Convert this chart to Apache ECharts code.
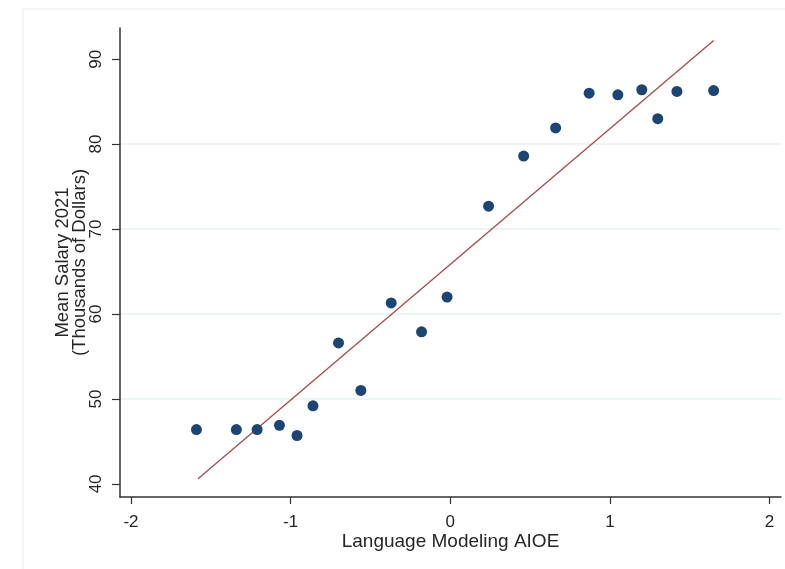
<!DOCTYPE html>
<html>
<head>
<meta charset="utf-8">
<script src="https://cdn.jsdelivr.net/npm/echarts@6/dist/echarts.min.js"></script>
<style>
html,body{margin:0;padding:0;background:#fff;}
#chart{width:785px;height:569px;}
</style>
</head>
<body>
<div id="chart"></div>
<script>
// ---- data ----
const aioe = [-1.59, -1.34, -1.21, -1.07, -0.96, -0.86, -0.70, -0.56, -0.37, -0.18, -0.02, 0.24, 0.46, 0.66, 0.87, 1.05, 1.20, 1.30, 1.42, 1.65];
const salary = [46.4, 46.4, 46.4, 46.9, 45.7, 49.2, 56.6, 51.0, 61.3, 57.9, 62.0, 72.7, 78.6, 81.9, 86.0, 85.8, 86.4, 83.0, 86.2, 86.3];
const fitX = [-1.58, 1.65];
const fitY = [40.6, 92.2];
const xTicks = [-2, -1, 0, 1, 2];
const yTicks = [40, 50, 60, 70, 80, 90];
const xTitle = 'Language Modeling AIOE';
const yTitle = 'Mean Salary 2021\n(Thousands of Dollars)';

const FONT = '"Liberation Sans", Arial, sans-serif';
const TXT = '#262626';
const AX = '#333';

const chart = echarts.init(document.getElementById('chart'), null, {renderer: 'canvas'});
chart.setOption({
  animation: false,
  backgroundColor: '#fff',
  textStyle: {fontFamily: FONT},
  grid: [
    {left: 120, top: 28, width: 661, height: 469, containLabel: false, outerBoundsMode: 'none'},
    {left: 23, top: 9, width: 1200, height: 1200, show: true, borderColor: '#e9eef0', borderWidth: 1,
     backgroundColor: 'transparent', containLabel: false, outerBoundsMode: 'none'}
  ],
  xAxis: [
    {
      gridIndex: 0, type: 'value', min: -2.069, max: 2.072,
      axisLine: {show: true, onZero: false, lineStyle: {color: AX, width: 1.5}},
      axisTick: {show: true, length: 7, customValues: xTicks, lineStyle: {color: AX, width: 1.2}},
      axisLabel: {customValues: xTicks, fontSize: 17, margin: 17, color: TXT, fontFamily: FONT},
      splitLine: {show: false},
      name: xTitle, nameLocation: 'middle', nameGap: 35, nameMoveOverlap: false,
      nameTextStyle: {fontSize: 19, color: TXT, fontFamily: FONT}
    },
    {gridIndex: 1, type: 'value', show: false}
  ],
  yAxis: [
    {
      gridIndex: 0, type: 'value', min: 38.46, max: 93.67,
      axisLine: {show: true, onZero: false, lineStyle: {color: AX, width: 1.5}},
      axisTick: {show: true, length: 8, customValues: yTicks, lineStyle: {color: AX, width: 1.2}},
      axisLabel: {customValues: yTicks, rotate: 90, fontSize: 17, margin: 15, color: TXT, fontFamily: FONT},
      splitLine: {show: true, showMinLine: false, showMaxLine: false, lineStyle: {color: '#e8eff1', width: 1.5}},
      name: yTitle, nameLocation: 'middle', nameGap: 32, nameRotate: 90, nameMoveOverlap: false,
      nameTextStyle: {fontSize: 18.5, lineHeight: 16.5, color: TXT, fontFamily: FONT, align: 'center'}
    },
    {gridIndex: 1, type: 'value', show: false}
  ],
  series: [
    {
      type: 'line', xAxisIndex: 0, yAxisIndex: 0,
      data: fitX.map((x, i) => [x, fitY[i]]),
      showSymbol: false, symbol: 'none',
      lineStyle: {color: '#a64f4c', width: 1.4},
      z: 2, silent: true
    },
    {
      type: 'scatter', xAxisIndex: 0, yAxisIndex: 0,
      data: aioe.map((x, i) => [x, salary[i]]),
      symbol: 'circle', symbolSize: 11,
      itemStyle: {color: '#1b4572', opacity: 1},
      z: 3
    }
  ]
});
</script>
</body>
</html>
